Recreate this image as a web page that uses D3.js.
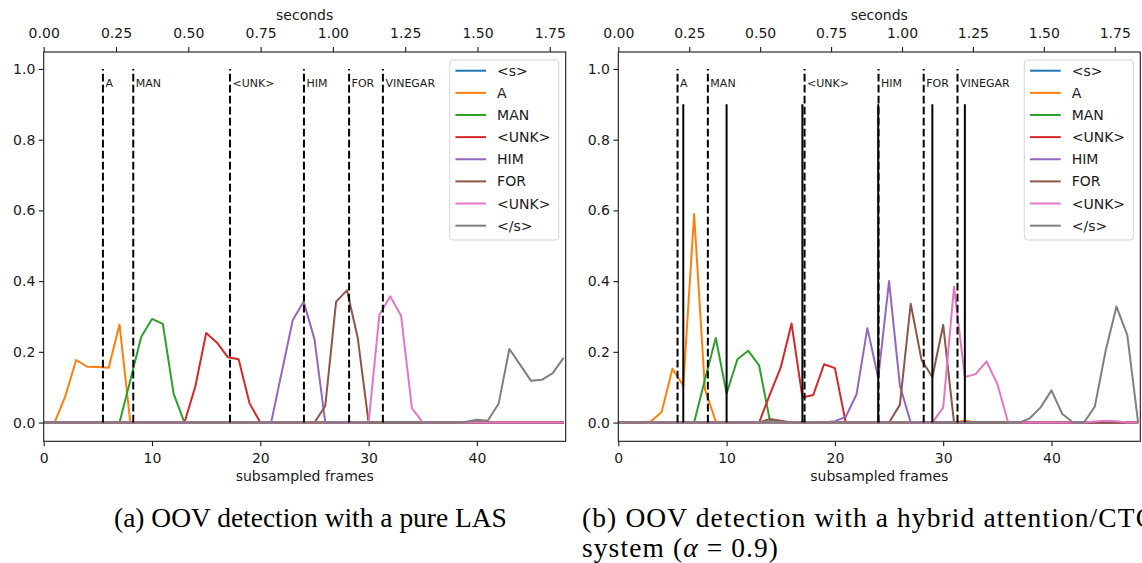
<!DOCTYPE html>
<html>
<head>
<meta charset="utf-8">
<script src="https://cdn.jsdelivr.net/npm/d3@7"></script>
<style>
  body { margin: 0; background: #fff; }
  svg { display: block; }
</style>
</head>
<body>
<div id="chart"></div>
<script>
// frame index (x) shared by every series
const frames = [0, 1, 2, 3, 4, 5, 6, 7, 8, 9, 10, 11, 12, 13, 14, 15, 16, 17, 18, 19,
  20, 21, 22, 23, 24, 25, 26, 27, 28, 29, 30, 31, 32, 33, 34, 35, 36, 37, 38, 39,
  40, 41, 42, 43, 44, 45, 46, 47, 48];

const seriesNames = ["<s>", "A", "MAN", "<UNK>", "HIM", "FOR", "<UNK>", "</s>"];

// word boundaries (subsampled frames) + labels
const words = ["A", "MAN", "<UNK>", "HIM", "FOR", "VINEGAR"];
const wordStarts = [5.47, 8.27, 17.2, 24.03, 28.2, 31.32];
// CTC spike positions (hybrid system only)
const ctcSpikes = [6, 10, 17, 24, 29, 32];

const bottomTicks = [0, 10, 20, 30, 40];
const secondTicks = [0, 0.25, 0.5, 0.75, 1.0, 1.25, 1.5, 1.75];
const yTicks = [0, 0.2, 0.4, 0.6, 0.8, 1.0];

//#region pure LAS
const lasSos = [0, 0, 0, 0, 0, 0, 0, 0, 0, 0,
  0, 0, 0, 0, 0, 0, 0, 0, 0, 0,
  0, 0, 0, 0, 0, 0, 0, 0, 0, 0,
  0, 0, 0, 0, 0, 0, 0, 0, 0, 0,
  0, 0, 0, 0, 0, 0, 0, 0, 0];
const lasA = [0, 0, 0.075, 0.177, 0.158, 0.157, 0.155, 0.277, 0, 0,
  0, 0, 0, 0, 0, 0, 0, 0, 0, 0,
  0, 0, 0, 0, 0, 0, 0, 0, 0, 0,
  0, 0, 0, 0, 0, 0, 0, 0, 0, 0,
  0, 0, 0, 0, 0, 0, 0, 0, 0];
const lasMan = [0, 0, 0, 0, 0, 0, 0, 0, 0.12, 0.242,
  0.293, 0.279, 0.081, 0, 0, 0, 0, 0, 0, 0,
  0, 0, 0, 0, 0, 0, 0, 0, 0, 0,
  0, 0, 0, 0, 0, 0, 0, 0, 0, 0,
  0, 0, 0, 0, 0, 0, 0, 0, 0];
const lasUnk = [0, 0, 0, 0, 0, 0, 0, 0, 0, 0,
  0, 0, 0, 0, 0.102, 0.253, 0.226, 0.185, 0.179, 0.055,
  0, 0, 0, 0, 0, 0, 0, 0, 0, 0,
  0, 0, 0, 0, 0, 0, 0, 0, 0, 0,
  0, 0, 0, 0, 0, 0, 0, 0, 0];
const lasHim = [0, 0, 0, 0, 0, 0, 0, 0, 0, 0,
  0, 0, 0, 0, 0, 0, 0, 0, 0, 0,
  0, 0, 0.145, 0.29, 0.342, 0.236, 0, 0, 0, 0,
  0, 0, 0, 0, 0, 0, 0, 0, 0, 0,
  0, 0, 0, 0, 0, 0, 0, 0, 0];
const lasFor = [0, 0, 0, 0, 0, 0, 0, 0, 0, 0,
  0, 0, 0, 0, 0, 0, 0, 0, 0, 0,
  0, 0, 0, 0, 0, 0, 0.047, 0.342, 0.374, 0.239,
  0, 0, 0, 0, 0, 0, 0, 0, 0, 0,
  0, 0, 0, 0, 0, 0, 0, 0, 0];
const lasUnk2 = [0, 0, 0, 0, 0, 0, 0, 0, 0, 0,
  0, 0, 0, 0, 0, 0, 0, 0, 0, 0,
  0, 0, 0, 0, 0, 0, 0, 0, 0, 0,
  0, 0.305, 0.357, 0.302, 0.041, 0, 0, 0, 0, 0,
  0, 0, 0, 0, 0, 0, 0, 0, 0];
const lasEos = [0, 0, 0, 0, 0, 0, 0, 0, 0, 0,
  0, 0, 0, 0, 0, 0, 0, 0, 0, 0,
  0, 0, 0, 0, 0, 0, 0, 0, 0, 0,
  0, 0, 0, 0, 0, 0, 0, 0, 0, 0.002,
  0.008, 0.005, 0.053, 0.208, 0.163, 0.118, 0.121, 0.14, 0.183];
//#endregion

//#region hybrid attention/CTC
const hybSos = [0, 0, 0, 0, 0, 0, 0, 0, 0, 0,
  0, 0, 0, 0, 0, 0, 0, 0, 0, 0,
  0, 0, 0, 0, 0, 0, 0, 0, 0, 0,
  0, 0, 0, 0, 0, 0, 0, 0, 0, 0,
  0, 0, 0, 0, 0, 0, 0, 0, 0];
const hybA = [0, 0, 0, 0.003, 0.03, 0.152, 0.104, 0.59, 0.094, 0.003,
  0, 0, 0, 0, 0, 0, 0, 0, 0, 0,
  0, 0, 0, 0, 0, 0, 0, 0, 0, 0,
  0, 0, 0.006, 0, 0, 0, 0, 0, 0, 0,
  0, 0, 0, 0, 0, 0, 0, 0, 0];
const hybMan = [0, 0, 0, 0, 0, 0, 0, 0, 0.122, 0.239,
  0.082, 0.179, 0.203, 0.162, 0.005, 0, 0, 0, 0, 0,
  0, 0, 0, 0, 0, 0, 0, 0, 0, 0,
  0, 0, 0, 0, 0, 0, 0, 0, 0, 0,
  0, 0, 0, 0, 0, 0, 0, 0, 0];
const hybUnk = [0, 0, 0, 0, 0, 0, 0, 0, 0, 0,
  0, 0, 0, 0, 0.08, 0.156, 0.28, 0.071, 0.078, 0.165,
  0.154, 0, 0, 0, 0, 0, 0, 0, 0, 0,
  0, 0, 0, 0, 0, 0, 0, 0, 0, 0,
  0, 0, 0, 0, 0, 0, 0, 0, 0];
const hybHim = [0, 0, 0, 0, 0, 0, 0, 0, 0, 0,
  0, 0, 0, 0, 0, 0, 0, 0, 0, 0,
  0.004, 0.016, 0.08, 0.267, 0.126, 0.4, 0.105, 0, 0, 0,
  0, 0, 0, 0, 0, 0, 0, 0, 0, 0,
  0, 0, 0, 0, 0, 0, 0, 0, 0];
const hybFor = [0, 0, 0, 0, 0, 0, 0, 0, 0, 0,
  0, 0, 0, 0, 0.01, 0.005, 0, 0, 0, 0,
  0, 0, 0, 0, 0, 0, 0.05, 0.336, 0.177, 0.129,
  0.276, 0, 0, 0, 0, 0, 0, 0, 0, 0,
  0, 0, 0, 0, 0, 0, 0, 0, 0];
const hybUnk2 = [0, 0, 0, 0, 0, 0, 0, 0, 0, 0,
  0, 0, 0, 0, 0, 0, 0, 0, 0, 0,
  0, 0, 0, 0, 0, 0, 0, 0, 0, 0,
  0.042, 0.384, 0.129, 0.137, 0.173, 0.109, 0, 0, 0, 0,
  0, 0, 0, 0, 0.003, 0.005, 0.004, 0, 0];
const hybEos = [0, 0, 0, 0, 0, 0, 0, 0, 0, 0,
  0, 0, 0, 0, 0, 0, 0, 0, 0, 0,
  0, 0, 0, 0, 0, 0, 0, 0, 0, 0,
  0, 0, 0, 0, 0, 0, 0, 0, 0.012, 0.043,
  0.091, 0.024, 0, 0, 0.045, 0.203, 0.328, 0.247, 0];
//#endregion

const captionA = "(a) OOV detection with a pure LAS";
const captionB1 = "(b) OOV detection with a hybrid attention/CTC";

const colourScale = d3.scaleOrdinal().domain(d3.range(10)).range(d3.schemeCategory10);
const font = "DejaVu Sans";
const ink = "#1a1a1a";

const svg = d3
  .select("#chart")
  .append("svg")
  .attr("width", 1142)
  .attr("height", 563);

const renderPanel = (cfg) => {
  const top = 52;
  const bottom = 441.3;
  const left = cfg.left;
  const right = cfg.left + 522;

  const xScale = d3.scaleLinear().domain([0, 48.2]).range([left, right]);
  const secScale = d3.scaleLinear().domain([0, cfg.secMax]).range([left, right]);
  const yScale = d3.scaleLinear().domain([-0.053, 1.048]).range([bottom, top]);

  const g = svg.append("g");

  g.append("clipPath")
    .attr("id", "clip-" + cfg.id)
    .append("rect")
    .attr("x", left)
    .attr("y", top)
    .attr("width", right - left)
    .attr("height", bottom - top);

  //posterior curves
  const line = d3
    .line()
    .x((d, i) => xScale(frames[i]))
    .y((d) => yScale(d));

  g.append("g")
    .attr("clip-path", `url(#clip-${cfg.id})`)
    .selectAll("path")
    .data(cfg.series)
    .enter()
    .append("path")
    .attr("d", line)
    .attr("fill", "none")
    .attr("stroke", (d, i) => colourScale(i))
    .attr("stroke-width", 2)
    .attr("stroke-linejoin", "round");

  //word boundaries
  g.selectAll(".word-line")
    .data(wordStarts)
    .enter()
    .append("line")
    .attr("class", "word-line")
    .attr("x1", (d) => xScale(d))
    .attr("x2", (d) => xScale(d))
    .attr("y1", yScale(0))
    .attr("y2", yScale(1))
    .attr("stroke", "black")
    .attr("stroke-width", 2)
    .attr("stroke-dasharray", "7.7,3.3");

  g.selectAll(".word-label")
    .data(words)
    .enter()
    .append("text")
    .attr("class", "word-label")
    .attr("x", (d, i) => xScale(wordStarts[i]) + 2.5)
    .attr("y", yScale(0.95))
    .attr("font-family", font)
    .attr("font-size", 11)
    .attr("fill", ink)
    .text((d) => d);

  if (cfg.spikes) {
    g.selectAll(".ctc-line")
      .data(cfg.spikes)
      .enter()
      .append("line")
      .attr("class", "ctc-line")
      .attr("x1", (d) => xScale(d))
      .attr("x2", (d) => xScale(d))
      .attr("y1", yScale(0))
      .attr("y2", yScale(0.9))
      .attr("stroke", "black")
      .attr("stroke-width", 2);
  }

  //axes
  const xAxis = d3.axisBottom(xScale).tickValues(bottomTicks).tickSize(4.9).tickSizeOuter(0).tickPadding(7);
  const secAxis = d3
    .axisTop(secScale)
    .tickValues(secondTicks)
    .tickFormat(d3.format(".2f"))
    .tickSize(4.9)
    .tickSizeOuter(0)
    .tickPadding(9);
  const yAxis = d3
    .axisLeft(yScale)
    .tickValues(yTicks)
    .tickFormat(d3.format(".1f"))
    .tickSize(4.9)
    .tickSizeOuter(0)
    .tickPadding(3.5);

  const xAxisG = g.append("g").attr("transform", `translate(0,${bottom})`).call(xAxis);
  const secAxisG = g.append("g").attr("transform", `translate(0,${top})`).call(secAxis);
  const yAxisG = g.append("g").attr("transform", `translate(${left},0)`).call(yAxis);

  [xAxisG, secAxisG, yAxisG].forEach((a) => {
    a.attr("font-family", font).attr("font-size", 14);
    a.select(".domain").remove();
    a.selectAll(".tick line").attr("stroke", ink).attr("stroke-width", 1.1);
    a.selectAll(".tick text").attr("fill", ink);
  });

  g.append("rect")
    .attr("x", left)
    .attr("y", top)
    .attr("width", right - left)
    .attr("height", bottom - top)
    .attr("fill", "none")
    .attr("stroke", ink)
    .attr("stroke-width", 1.1);

  g.append("text")
    .attr("x", (left + right) / 2)
    .attr("y", 20)
    .attr("text-anchor", "middle")
    .attr("font-family", font)
    .attr("font-size", 14)
    .attr("fill", ink)
    .text("seconds");

  g.append("text")
    .attr("x", (left + right) / 2)
    .attr("y", 481)
    .attr("text-anchor", "middle")
    .attr("font-family", font)
    .attr("font-size", 14)
    .attr("fill", ink)
    .text("subsampled frames");

  //legend
  const legend = g.append("g").attr("transform", `translate(${right - 116},${top + 8})`);
  legend
    .append("rect")
    .attr("width", 109)
    .attr("height", 180)
    .attr("rx", 3)
    .attr("fill", "white")
    .attr("fill-opacity", 0.8)
    .attr("stroke", "#d6d6d6")
    .attr("stroke-width", 1);

  const items = legend
    .selectAll(".item")
    .data(seriesNames)
    .enter()
    .append("g")
    .attr("class", "item")
    .attr("transform", (d, i) => `translate(0,${10.7 + 22.14 * i})`);
  items
    .append("line")
    .attr("x1", 5.7)
    .attr("x2", 36.4)
    .attr("stroke", (d, i) => colourScale(i))
    .attr("stroke-width", 2);
  items
    .append("text")
    .attr("x", 47.4)
    .attr("y", 5)
    .attr("font-family", font)
    .attr("font-size", 14)
    .attr("fill", ink)
    .text((d) => d);
};

renderPanel({
  id: "las",
  left: 43.7,
  secMax: 1.805,
  series: [lasSos, lasA, lasMan, lasUnk, lasHim, lasFor, lasUnk2, lasEos],
});

renderPanel({
  id: "hyb",
  left: 618.3,
  secMax: 1.84,
  series: [hybSos, hybA, hybMan, hybUnk, hybHim, hybFor, hybUnk2, hybEos],
  spikes: ctcSpikes,
});

//captions (serif). (a) sets the size; (b) lines are spread to the widths they take in the picture
const capFont = "Liberation Serif";

const capA = svg
  .append("text")
  .attr("x", 114)
  .attr("y", 527)
  .attr("font-family", capFont)
  .attr("font-size", 24)
  .attr("fill", "black")
  .text(captionA);
const capSize = (24 * 393) / capA.node().getComputedTextLength();
capA.attr("font-size", capSize);

const capB1 = svg
  .append("text")
  .attr("x", 582)
  .attr("y", 527)
  .attr("font-family", capFont)
  .attr("font-size", capSize)
  .attr("fill", "black")
  .attr("textLength", 572)
  .attr("lengthAdjust", "spacing")
  .text(captionB1);

const capB2 = svg
  .append("text")
  .attr("x", 582)
  .attr("y", 557)
  .attr("font-family", capFont)
  .attr("font-size", capSize)
  .attr("fill", "black")
  .attr("textLength", 196)
  .attr("lengthAdjust", "spacing");
capB2.append("tspan").text("system (");
capB2.append("tspan").attr("font-style", "italic").text("α");
capB2.append("tspan").text(" = 0.9)");
</script>
</body>
</html>
